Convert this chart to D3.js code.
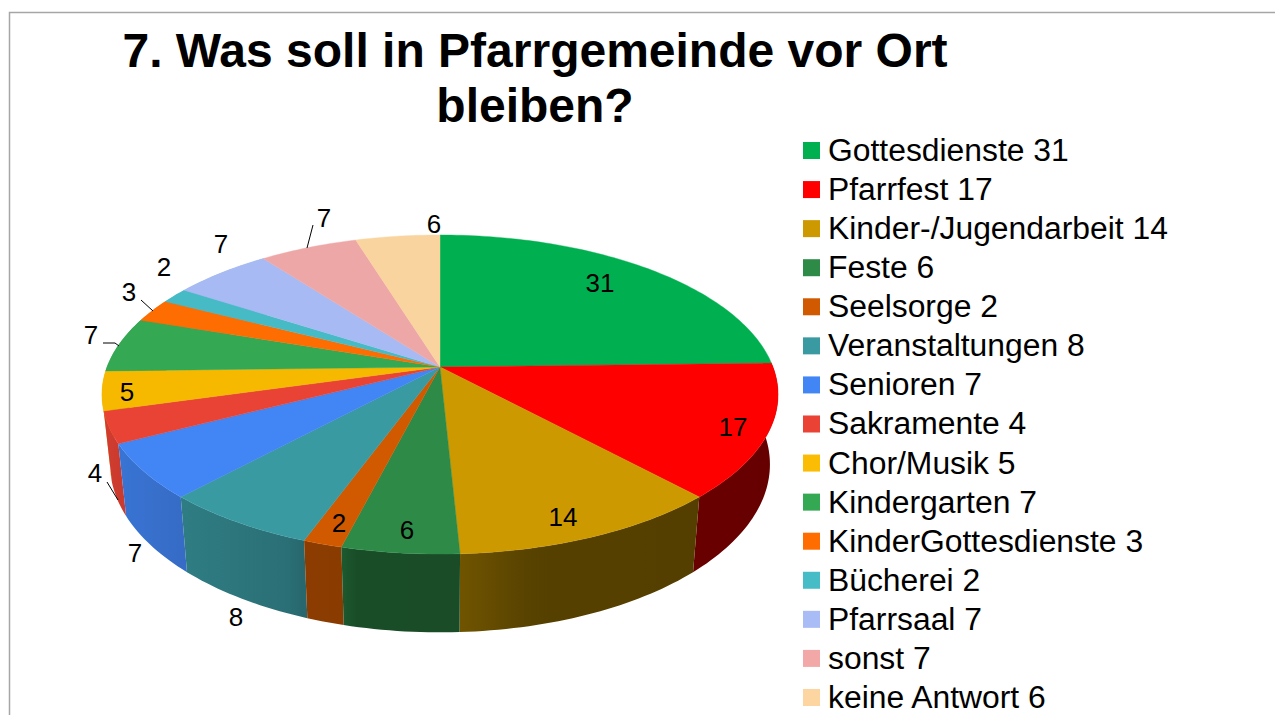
<!DOCTYPE html>
<html>
<head>
<meta charset="utf-8">
<title>Was soll in Pfarrgemeinde vor Ort bleiben?</title>
<script src="https://cdn.jsdelivr.net/npm/d3@7"></script>
<style>
  html, body { margin: 0; padding: 0; background: #fff; overflow: hidden; }
  text { font-family: "Liberation Sans", Arial, sans-serif; fill: #000; }
</style>
</head>
<body>
<svg id="chart"></svg>
<script>
const categories = ["Gottesdienste", "Pfarrfest", "Kinder-/Jugendarbeit", "Feste", "Seelsorge",
  "Veranstaltungen", "Senioren", "Sakramente", "Chor/Musik", "Kindergarten",
  "KinderGottesdienste", "Bücherei", "Pfarrsaal", "sonst", "keine Antwort"];
const values = [31, 17, 14, 6, 2, 8, 7, 4, 5, 7, 3, 2, 7, 7, 6];
const colors = ["#00b050", "#ff0000", "#cc9900", "#2d8a47", "#d15a00",
  "#3a9aa2", "#4285f4", "#e94335", "#f6b900", "#34a853",
  "#fd6d01", "#46bbc5", "#a7baf3", "#eea7a7", "#f9d49f"];
const legendColors = ["#00b050", "#ff0000", "#cc9900", "#2d8a47", "#d15a00",
  "#3a9aa2", "#4285f4", "#ea4335", "#fbbc04", "#34a853",
  "#ff6d01", "#46bdc6", "#a9bcf6", "#f3a8a8", "#fcd5a0"];
const titleLines = ["7. Was soll in Pfarrgemeinde vor Ort", "bleiben?"];

// label placement, picked by hand like in the original slide
const labelPos = [[600, 283], [733, 427], [563, 517], [407, 530], [339, 523],
  [236, 617], [135, 553], [95, 473], [127, 392], [91, 335],
  [129, 292], [164, 267], [221, 244], [324, 218], [434, 224]];
const leaders = [
  [[313, 225], [307, 248]],
  [[141, 300], [153, 311]],
  [[103, 343], [115, 343], [119, 346]],
  [[107, 482], [118, 500]]
];

const width = 1275, height = 715;
const svg = d3.select("#chart").attr("width", width).attr("height", height);

// frame of the slide
svg.append("path")
  .attr("d", "M9.5,715V12.5H1275")
  .attr("fill", "none")
  .attr("stroke", "#a6a6a6")
  .attr("stroke-width", 1.5);

svg.selectAll(".title")
  .data(titleLines)
  .join("text")
  .attr("class", "title")
  .attr("x", 535)
  .attr("y", (d, i) => 67 + i * 55)
  .attr("text-anchor", "middle")
  .attr("font-size", 48)
  .attr("font-weight", "bold")
  .text(d => d);

// perspective projection of a circle: top face and the smaller bottom face
const cx = 440;
const topFace = { a: 333, b: 154.8, k: 0.1724, y: 367 };
const bottomFace = { a: 325, b: 163, k: 0.1724, y: 435.4 };

function project(face, angle) {
  const u = Math.sin(angle), v = -Math.cos(angle), w = 1 - face.k * v;
  return [cx + face.a * u / w, face.y + face.b * v / w];
}

function rim(face, a0, a1) {
  const steps = Math.max(2, Math.ceil((a1 - a0) / 0.02));
  return d3.range(steps + 1).map(i => project(face, a0 + (a1 - a0) * i / steps));
}

const pie = d3.pie().sort(null);
const slices = pie(values);
const line = d3.line();
const deg = d => d * 180 / Math.PI;

// how dark the side wall gets, right side is darkest
const shade = d3.scaleLinear()
  .domain([90, 165, 177, 194, 194.3, 200, 200.3, 222, 250, 290])
  .range([0.4, 0.42, 0.55, 0.56, 0.66, 0.67, 0.71, 0.81, 0.89, 0.92]);

function wallColor(i, angle) {
  const c = d3.rgb(legendColors[i]), f = shade(deg(angle));
  return d3.rgb(c.r * f, c.g * f, c.b * f).formatHex();
}

const defs = svg.append("defs");
const walls = slices
  .filter(d => d.endAngle > Math.PI / 2 && d.startAngle < 1.7 * Math.PI)
  .sort((p, q) => Math.abs((p.startAngle + p.endAngle) / 2 - Math.PI) < Math.abs((q.startAngle + q.endAngle) / 2 - Math.PI) ? 1 : -1);

walls.forEach(d => {
  const upper = rim(topFace, d.startAngle, d.endAngle);
  const lower = rim(bottomFace, d.startAngle, d.endAngle);
  const id = "wall" + d.index;
  const grad = defs.append("linearGradient")
    .attr("id", id)
    .attr("gradientUnits", "userSpaceOnUse")
    .attr("x1", upper[0][0]).attr("x2", upper[upper.length - 1][0])
    .attr("y1", 0).attr("y2", 0);
  d3.range(9).forEach(j => {
    const t = j / 8;
    grad.append("stop")
      .attr("offset", t)
      .attr("stop-color", wallColor(d.index, d.startAngle + (d.endAngle - d.startAngle) * t));
  });
  // one quad per rim step, all in one path, so the outline also covers the tangent edge
  const quads = d3.range(upper.length - 1)
    .map(i => line([upper[i], upper[i + 1], lower[i + 1], lower[i]]) + "Z")
    .join("");
  svg.append("path")
    .attr("d", quads)
    .attr("fill", `url(#${id})`);
});

// top face
svg.append("g")
  .selectAll("path")
  .data(slices)
  .join("path")
  .attr("d", d => line([[cx, topFace.y]].concat(rim(topFace, d.startAngle, d.endAngle))) + "Z")
  .attr("fill", d => colors[d.index])
  .attr("stroke", d => colors[d.index])
  .attr("stroke-width", 0.4);

svg.append("g")
  .selectAll("path")
  .data(leaders)
  .join("path")
  .attr("d", d => line(d))
  .attr("fill", "none")
  .attr("stroke", "#000")
  .attr("stroke-width", 1);

svg.append("g")
  .selectAll("text")
  .data(values)
  .join("text")
  .attr("x", (d, i) => labelPos[i][0])
  .attr("y", (d, i) => labelPos[i][1] + 9)
  .attr("text-anchor", "middle")
  .attr("font-size", 26)
  .text(d => d);

// legend
const legend = svg.append("g")
  .selectAll("g")
  .data(categories)
  .join("g")
  .attr("transform", (d, i) => `translate(803,${142 + i * 39.07})`);

legend.append("rect")
  .attr("width", 17)
  .attr("height", 17)
  .attr("fill", (d, i) => legendColors[i]);

legend.append("text")
  .attr("x", 25)
  .attr("y", 19)
  .attr("font-size", 31.85)
  .text((d, i) => d + " " + values[i]);
</script>
</body>
</html>
